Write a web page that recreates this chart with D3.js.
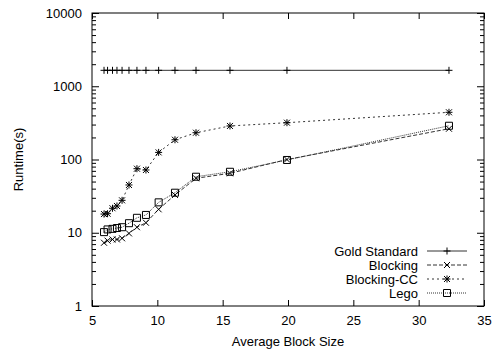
<!DOCTYPE html>
<html>
<head>
<meta charset="utf-8">
<script src="https://cdnjs.cloudflare.com/ajax/libs/d3/7.8.5/d3.min.js"></script>
<style>
  body { margin: 0; background: #fff; }
  text { font-family: "Liberation Sans", Arial, sans-serif; font-size: 13px; fill: #000; }
</style>
</head>
<body>
<div id="chart"></div>
<script>
// Data
var blockSize = [5.92, 6.19, 6.57, 6.91, 7.30, 7.83, 8.44, 9.13, 10.10, 11.35, 12.96, 15.56, 19.92, 32.32];
var goldStandard = [1650, 1650, 1650, 1650, 1650, 1650, 1650, 1650, 1650, 1650, 1650, 1650, 1650, 1650];
var blocking = [7.3, 7.8, 8.1, 8.1, 8.4, 9.8, 11.9, 13.7, 20.9, 32.8, 55.4, 64.8, 100, 263];
var blockingCC = [18.0, 18.2, 21.6, 23.2, 27.7, 44.9, 74.9, 71.9, 125, 186, 232, 287, 318, 441];
var lego = [10.2, 11.1, 11.3, 11.6, 11.9, 13.5, 16.0, 17.5, 26.0, 35.2, 58.2, 68, 98.5, 289];

var seriesNames = ["Gold Standard", "Blocking", "Blocking-CC", "Lego"];
var xTicks = [5, 10, 15, 20, 25, 30, 35];
var yTicks = [1, 10, 100, 1000, 10000];

var svgWidth = 495;
var svgHeight = 349;

var margin = {
  top: 13,
  right: 11,
  bottom: 43,
  left: 92
};

var width = svgWidth - margin.left - margin.right;
var height = svgHeight - margin.top - margin.bottom;

var svg = d3.select("#chart")
  .append("svg")
  .attr("width", svgWidth)
  .attr("height", svgHeight);

var chartGroup = svg.append("g")
  .attr("transform", `translate(${margin.left}, ${margin.top})`);

// Scales
var xScale = d3.scaleLinear()
  .domain([5, 35])
  .range([0, width]);

var yScale = d3.scaleLog()
  .domain([1, 10000])
  .range([height, 0]);

// Minor log ticks
var minorTicks = [];
yTicks.slice(0, -1).forEach(function(d) {
  for (var k = 2; k <= 9; k++) minorTicks.push(d * k);
});

// Axes (ticks pointing inward, mirrored)
var bottomAxis = d3.axisBottom(xScale).tickValues(xTicks).tickSize(-6).tickPadding(10).tickFormat(d3.format("d"));
var topAxis = d3.axisTop(xScale).tickValues(xTicks).tickSize(-6).tickFormat("");
var leftAxis = d3.axisLeft(yScale).tickValues(yTicks).tickSize(-7).tickPadding(10).tickFormat(d3.format("d"));
var rightAxis = d3.axisRight(yScale).tickValues(yTicks).tickSize(-7).tickFormat("");
var leftMinor = d3.axisLeft(yScale).tickValues(minorTicks).tickSize(-4).tickFormat("");
var rightMinor = d3.axisRight(yScale).tickValues(minorTicks).tickSize(-4).tickFormat("");

function styleAxis(g) {
  g.select(".domain").remove();
  g.selectAll(".tick line").attr("stroke", "#000");
  g.selectAll("text").style("font-size", "13px").attr("fill", "#000");
}

chartGroup.append("g").attr("transform", `translate(0, ${height})`).call(bottomAxis).call(styleAxis);
chartGroup.append("g").call(topAxis).call(styleAxis);
chartGroup.append("g").call(leftAxis).call(styleAxis);
chartGroup.append("g").call(leftMinor).call(styleAxis);
chartGroup.append("g").attr("transform", `translate(${width}, 0)`).call(rightAxis).call(styleAxis);
chartGroup.append("g").attr("transform", `translate(${width}, 0)`).call(rightMinor).call(styleAxis);

// Frame
chartGroup.append("rect")
  .attr("width", width)
  .attr("height", height)
  .attr("fill", "none")
  .attr("stroke", "#000")
  .attr("stroke-width", 1);

// Markers
function markerPath(type, x, y) {
  var s = 3.5;
  var c = 3;
  if (type == "plus") return `M${x - s},${y}H${x + s}M${x},${y - s}V${y + s}`;
  if (type == "cross") return `M${x - c},${y - c}L${x + c},${y + c}M${x - c},${y + c}L${x + c},${y - c}`;
  if (type == "star") return markerPath("plus", x, y) + markerPath("cross", x, y);
  return `M${x - s},${y - s}H${x + s}V${y + s}H${x - s}Z`;
}

var series = [
  {name: seriesNames[0], values: goldStandard, dash: null, marker: "plus"},
  {name: seriesNames[1], values: blocking, dash: "4,2", marker: "cross"},
  {name: seriesNames[2], values: blockingCC, dash: "2,3", marker: "star"},
  {name: seriesNames[3], values: lego, dash: "1,1", marker: "square"}
];

var line = d3.line()
  .x(d => xScale(d[0]))
  .y(d => yScale(d[1]));

series.forEach(function(s) {
  var pts = blockSize.map((x, i) => [x, s.values[i]]);

  chartGroup.append("path")
    .datum(pts)
    .attr("d", line)
    .attr("fill", "none")
    .attr("stroke", "#333")
    .attr("stroke-width", 1)
    .attr("stroke-dasharray", s.dash);

  chartGroup.selectAll(null)
    .data(pts)
    .enter()
    .append("path")
    .attr("d", d => markerPath(s.marker, xScale(d[0]), yScale(d[1])))
    .attr("fill", "none")
    .attr("stroke", "#000")
    .attr("stroke-width", 1);
});

// Legend
var legend = chartGroup.append("g")
  .attr("transform", `translate(${418 - margin.left}, ${251 - margin.top})`);

series.forEach(function(s, i) {
  var row = legend.append("g").attr("transform", `translate(0, ${i * 14})`);
  row.append("text")
    .attr("x", 0)
    .attr("y", 0)
    .attr("dy", "0.35em")
    .style("text-anchor", "end")
    .text(s.name);
  row.append("line")
    .attr("x1", 9)
    .attr("x2", 49)
    .attr("stroke", "#333")
    .attr("stroke-width", 1)
    .attr("stroke-dasharray", s.dash);
  row.append("path")
    .attr("d", markerPath(s.marker, 29, 0))
    .attr("fill", "none")
    .attr("stroke", "#000");
});

// Axis labels
chartGroup.append("text")
  .attr("transform", "rotate(-90)")
  .attr("x", -(height / 2))
  .attr("y", 18 - margin.left)
  .attr("dy", "0.35em")
  .style("text-anchor", "middle")
  .text("Runtime(s)");

chartGroup.append("text")
  .attr("x", width / 2)
  .attr("y", height + 40)
  .style("text-anchor", "middle")
  .text("Average Block Size");
</script>
</body>
</html>
